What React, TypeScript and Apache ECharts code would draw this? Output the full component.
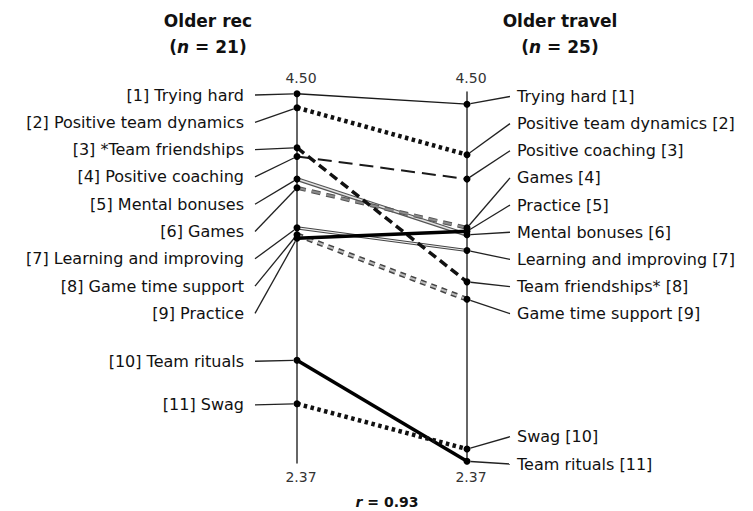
import React, { useEffect, useRef } from 'react';
import * as echarts from 'echarts';

// ---- data ----
const leftLabels = [
  '[1] Trying hard', '[2] Positive team dynamics', '[3] *Team friendships', '[4] Positive coaching',
  '[5] Mental bonuses', '[6] Games', '[7] Learning and improving', '[8] Game time support',
  '[9] Practice', '[10] Team rituals', '[11] Swag',
];
const rightLabels = [
  'Trying hard [1]', 'Positive team dynamics [2]', 'Team friendships* [8]', 'Positive coaching [3]',
  'Mental bonuses [6]', 'Games [4]', 'Learning and improving [7]', 'Game time support [9]',
  'Practice [5]', 'Team rituals [11]', 'Swag [10]',
];
const olderRec = [4.49, 4.41, 4.18, 4.13, 4.0, 3.95, 3.72, 3.68, 3.66, 2.96, 2.71];
const olderTravel = [4.43, 4.14, 3.41, 4.0, 3.68, 3.72, 3.59, 3.31, 3.7, 2.38, 2.45];
const groupNames = ['Older rec', 'Older travel'];
const groupN = [21, 25];
const axisMax = 4.5;
const axisMin = 2.37;
const tickLabels = ['4.50', '2.37'];
const correlation = '0.93';

// ---- styles (per item, in item order) ----
type Layer = { color: string; width: number; type: any };
const itemStyles: Layer[][] = [
  [{ color: '#1a1a1a', width: 1.3, type: 'solid' }],
  [{ color: '#111', width: 4.5, type: [3.5, 3.5] }],
  [{ color: '#111', width: 3.5, type: [9, 5] }],
  [{ color: '#1a1a1a', width: 2, type: [14, 7] }],
  [{ color: '#555', width: 4, type: 'solid' }, { color: '#e2e2e2', width: 1.6, type: 'solid' }],
  [{ color: '#555', width: 4, type: [9, 6] }, { color: '#8a8a8a', width: 2, type: [9, 6] }],
  [{ color: '#444', width: 3.2, type: 'solid' }, { color: '#eee', width: 1.2, type: 'solid' }],
  [{ color: '#444', width: 5, type: [6, 5] }, { color: '#bbb', width: 2, type: [6, 5] }],
  [{ color: '#000', width: 3.5, type: 'solid' }],
  [{ color: '#000', width: 3.5, type: 'solid' }],
  [{ color: '#111', width: 4.5, type: [3.5, 3.5] }],
];
const drawOrder = [4, 5, 6, 7, 0, 3, 2, 1, 8, 9, 10];

const FONT = 'DejaVu Sans';

function rankOf(values: number[]): number[] {
  const idx = values.map((_, i) => i).sort((a, b) => values[b] - values[a]);
  const r: number[] = new Array(values.length);
  idx.forEach((k, pos) => (r[k] = pos));
  return r;
}

export default function App() {
  const ref = useRef<HTMLDivElement>(null);
  useEffect(() => {
    if (!ref.current) return;
    const chart = echarts.init(ref.current, undefined, { renderer: 'svg' });
    const leftRank = rankOf(olderRec);
    const rightRank = rankOf(olderTravel);
    const n = olderRec.length;

    const lineSeries: any[] = [];
    drawOrder.forEach((i) => {
      itemStyles[i].forEach((layer) => {
        lineSeries.push({
          type: 'line',
          silent: true,
          symbol: 'none',
          z: 2,
          data: [[0, olderRec[i]], [1, olderTravel[i]]],
          lineStyle: { color: layer.color, width: layer.width, type: layer.type, cap: 'butt' },
        });
      });
    });

    const labelBase = {
      show: true,
      fontFamily: FONT,
      fontSize: 16,
      color: '#111',
      opacity: 1,
      backgroundColor: 'rgba(0,0,0,0)',
    };
    const labelLine = { show: true, length2: 0, smooth: false, lineStyle: { color: '#222', width: 1.3, opacity: 1 } };

    const leftScatter = {
      type: 'scatter',
      z: 4,
      symbol: 'circle',
      symbolSize: 7,
      itemStyle: { color: '#000', opacity: 1 },
      data: olderRec.map((v) => [0, v]),
      label: { ...labelBase, padding: [0, 11, 0, 0], formatter: (p: any) => leftLabels[p.dataIndex] },
      labelLine,
      labelLayout: (p: any) => {
        const r = leftRank[p.dataIndex];
        const y = r < 9 ? 95 + r * 27.3 : p.rect.y + p.rect.height / 2 + 1;
        return { x: 255, y, align: 'right', verticalAlign: 'middle' };
      },
    };
    const rightScatter = {
      type: 'scatter',
      z: 4,
      symbol: 'circle',
      symbolSize: 7,
      itemStyle: { color: '#000', opacity: 1 },
      data: olderTravel.map((v) => [1, v]),
      label: { ...labelBase, padding: [0, 0, 0, 7], formatter: (p: any) => rightLabels[p.dataIndex] },
      labelLine,
      labelLayout: (p: any) => {
        const r = rightRank[p.dataIndex];
        const y = r < 9 ? 96.5 + r * 27.15 : 464 - (n - 1 - r) * 27.3;
        return { x: 510, y, align: 'left', verticalAlign: 'middle' };
      },
    };

    const axisLineStyle = { color: '#333', width: 1.5 };
    const mkY = (position: string, name: string, loc: string, line: boolean) => ({
      type: 'value',
      min: axisMin,
      max: axisMax,
      position,
      axisLine: { show: line, onZero: false, lineStyle: axisLineStyle },
      axisTick: { show: false },
      axisLabel: { show: false },
      splitLine: { show: false },
      name,
      nameLocation: loc,
      nameGap: 7,
      nameTextStyle: { fontFamily: FONT, fontSize: 14, color: '#333', padding: [0, 0, 0, 8] },
    });

    const titleText = (k: number) => `${groupNames[k]}\n({i|n} = ${groupN[k]})`;
    const titleStyle = {
      fontFamily: FONT,
      fontWeight: 'bold',
      fontSize: 17,
      lineHeight: 26,
      color: '#111',
      rich: { i: { fontFamily: FONT, fontWeight: 'bold', fontStyle: 'italic', fontSize: 17, lineHeight: 26, color: '#111' } },
    };

    chart.setOption({
      animation: false,
      backgroundColor: '#fff',
      title: [
        { text: titleText(0), left: 208, top: 8, padding: 0, textAlign: 'center', textStyle: titleStyle },
        { text: titleText(1), left: 560, top: 8, padding: 0, textAlign: 'center', textStyle: titleStyle },
        {
          text: `{i|r} = ${correlation}`,
          left: 387,
          top: 493,
          padding: 0,
          textAlign: 'center',
          textStyle: {
            fontFamily: FONT, fontWeight: 'bold', fontSize: 14, lineHeight: 17, color: '#111',
            rich: { i: { fontFamily: FONT, fontWeight: 'bold', fontStyle: 'italic', fontSize: 14, lineHeight: 17, color: '#111' } },
          },
        },
      ],
      grid: { left: 297, right: 286, top: 92, bottom: 48, containLabel: false },
      xAxis: { type: 'value', min: 0, max: 1, show: false },
      yAxis: [
        mkY('left', tickLabels[0], 'end', true),
        mkY('left', tickLabels[1], 'start', false),
        mkY('right', tickLabels[0], 'end', true),
        mkY('right', tickLabels[1], 'start', false),
      ],
      series: [...lineSeries, leftScatter, rightScatter],
    });
    return () => chart.dispose();
  }, []);
  return <div ref={ref} style={{ position: 'fixed', left: 0, top: 0, width: 753, height: 511 }} />;
}
